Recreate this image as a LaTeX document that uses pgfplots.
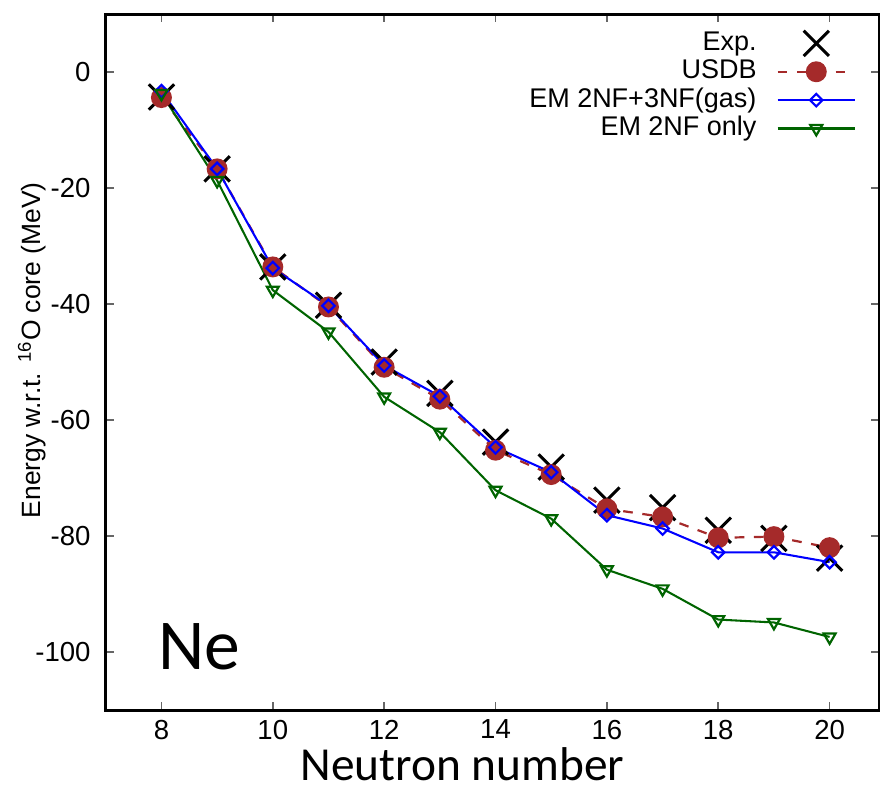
\documentclass[border=0pt]{standalone}
\usepackage{fontspec}
\setmainfont{Liberation Sans}
\newfontfamily\calibri{Carlito}
\usepackage{pgfplots}
\pgfplotsset{compat=1.18}
\definecolor{usdb}{HTML}{A52A2A}
\definecolor{dkgreen}{HTML}{006400}

\begin{document}
\begin{tikzpicture}
\begin{axis}[
  width=281pt, height=252.7pt, scale only axis,
  xmin=7, xmax=20.9, ymin=-110, ymax=10,
  xtick={8,10,...,20}, ytick={-100,-80,...,0},
  tick align=inside, major tick length=3pt,
  every tick/.style={black!60, line width=0.6pt},
  axis line style={line width=1.1pt},
  tick label style={font=\fontsize{10}{12}\selectfont},
  yticklabel style={xshift=-2pt},
  /pgf/number format/assume math mode=true,
  xlabel={\calibri\fontsize{17.2}{20}\selectfont Neutron number},
  xlabel style={at={(axis description cs:0.461,0)}, anchor=center, yshift=-19.5pt},
  ylabel={\fontsize{9.6}{11}\selectfont Energy w.r.t. \textsuperscript{16}O core (MeV)},
  ylabel style={at={(axis description cs:-0.095,0.517)}, anchor=center},
  legend plot pos=right,
  legend cell align=right,
  legend style={draw=none, fill=none, inner sep=0pt, column sep=7pt,
    at={(axis description cs:0.97,0.979)}, anchor=north east,
    font=\fontsize{9.8}{11}\selectfont,
    nodes={inner sep=0.3pt, text height=7.4pt, text depth=2.3pt}},
  legend image code/.code={\draw[mark repeat=2,mark phase=2,#1] plot coordinates {(0pt,0pt) (14pt,0pt) (28pt,0pt)};},
]
\addplot[only marks, mark=x, mark size=6.5pt, mark options={line width=1.1pt, black}]
  coordinates {(8,-4.3) (9,-16.7) (10,-33.6) (11,-40.2) (12,-50.0) (13,-55.4) (14,-63.8)
    (15,-68.1) (16,-73.8) (17,-75.1) (18,-79.0) (19,-80.4) (20,-83.8)};
\addlegendentry{Exp.}
\addplot[usdb, line width=0.8pt, dash pattern=on 3.5pt off 3.5pt, mark=*, mark size=3.4pt,
  mark options={solid, fill=usdb, draw=usdb}]
  coordinates {(8,-4.4) (9,-16.7) (10,-33.6) (11,-40.5) (12,-50.9) (13,-56.4) (14,-65.2)
    (15,-69.4) (16,-75.3) (17,-76.7) (18,-80.3) (19,-80.1) (20,-82.0)};
\addlegendentry{USDB}
\addplot[blue, line width=0.75pt, mark=square, mark size=1.6pt, mark options={solid, rotate=45, fill=none, line width=0.8pt}]
  coordinates {(8,-3.3) (9,-16.7) (10,-33.8) (11,-40.3) (12,-50.6) (13,-55.9) (14,-64.7)
    (15,-69.0) (16,-76.4) (17,-78.7) (18,-82.8) (19,-82.8) (20,-84.5)};
\addlegendentry{EM 2NF+3NF(gas)}
\addplot[dkgreen, line width=0.75pt, mark=triangle, mark size=2.5pt, mark options={solid, rotate=180, fill=none, line width=0.8pt}]
  coordinates {(8,-3.7) (9,-18.7) (10,-37.6) (11,-44.8) (12,-56.0) (13,-62.1) (14,-72.1)
    (15,-77.0) (16,-85.8) (17,-89.1) (18,-94.4) (19,-94.9) (20,-97.4)};
\addlegendentry{EM 2NF only}
\node[font=\calibri\fontsize{26}{30}\selectfont, anchor=center] at (axis cs:8.68,-99.1) {Ne};
\end{axis}
\pgfresetboundingbox
\path ([shift={(-38.4pt,-28.5pt)}]current axis.south west) rectangle ([shift={(0.1pt,5.1pt)}]current axis.north east);
\end{tikzpicture}
\end{document}
